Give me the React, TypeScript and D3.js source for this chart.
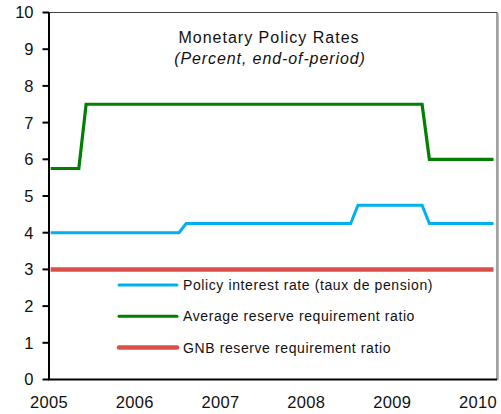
import React, { useEffect, useRef } from 'react';
import * as d3 from 'd3';

// Monthly observations, Jan 2005 - Mar 2010 (end-of-period, percent)
const startYear = 2005;
const policyRate = [
  4, 4, 4, 4, 4, 4, 4, 4, 4, 4, 4, 4,
  4, 4, 4, 4, 4, 4, 4, 4.25, 4.25, 4.25, 4.25, 4.25,
  4.25, 4.25, 4.25, 4.25, 4.25, 4.25, 4.25, 4.25, 4.25, 4.25, 4.25, 4.25,
  4.25, 4.25, 4.25, 4.25, 4.25, 4.25, 4.25, 4.75, 4.75, 4.75, 4.75, 4.75,
  4.75, 4.75, 4.75, 4.75, 4.75, 4.25, 4.25, 4.25, 4.25, 4.25, 4.25, 4.25,
  4.25, 4.25, 4.25
];
const avgReserveRatio = [
  5.75, 5.75, 5.75, 5.75, 5.75, 7.5, 7.5, 7.5, 7.5, 7.5, 7.5, 7.5,
  7.5, 7.5, 7.5, 7.5, 7.5, 7.5, 7.5, 7.5, 7.5, 7.5, 7.5, 7.5,
  7.5, 7.5, 7.5, 7.5, 7.5, 7.5, 7.5, 7.5, 7.5, 7.5, 7.5, 7.5,
  7.5, 7.5, 7.5, 7.5, 7.5, 7.5, 7.5, 7.5, 7.5, 7.5, 7.5, 7.5,
  7.5, 7.5, 7.5, 7.5, 7.5, 6, 6, 6, 6, 6, 6, 6,
  6, 6, 6
];
const gnbReserveRatio = [
  3, 3, 3, 3, 3, 3, 3, 3, 3, 3, 3, 3,
  3, 3, 3, 3, 3, 3, 3, 3, 3, 3, 3, 3,
  3, 3, 3, 3, 3, 3, 3, 3, 3, 3, 3, 3,
  3, 3, 3, 3, 3, 3, 3, 3, 3, 3, 3, 3,
  3, 3, 3, 3, 3, 3, 3, 3, 3, 3, 3, 3,
  3, 3, 3
];
const yearLabels = ['2005', '2006', '2007', '2008', '2009', '2010'];
const yTicks = [0, 1, 2, 3, 4, 5, 6, 7, 8, 9, 10];
const seriesNames = [
  'Policy interest rate (taux de pension)',
  'Average reserve requirement ratio',
  'GNB reserve requirement ratio'
];

const font = 'Arial, "Liberation Sans", sans-serif';

const App = () => {
  const ref = useRef(null);

  useEffect(() => {
    const width = 501;
    const height = 414;
    const left = 49;
    const right = 497;
    const top = 12.5;
    const bottom = 379.5;

    const container = d3.select(ref.current);
    container.selectAll('*').remove();

    const svg = container
      .append('svg')
      .attr('width', width)
      .attr('height', height)
      .style('position', 'absolute')
      .style('left', 0)
      .style('top', 0)
      .style('background', '#fff');

    // points sit about a week into each month
    const date = (i: number) => new Date(startYear, i, 8);

    const x = d3.scaleTime()
      .domain([new Date(2005, 0, 1), new Date(2010, 0, 1)])
      .range([left, 478]);
    const y = d3.scaleLinear().domain([0, 10]).range([bottom, top]);

    // plot frame
    svg.append('rect')
      .attr('x', left)
      .attr('y', top)
      .attr('width', right - left)
      .attr('height', bottom - top)
      .attr('fill', 'none')
      .attr('stroke', '#444')
      .attr('stroke-width', 1);
    svg.append('line')
      .attr('x1', right + 1.5).attr('x2', right + 1.5)
      .attr('y1', top + 1).attr('y2', bottom + 1)
      .attr('stroke', '#bbb').attr('stroke-width', 1);

    // titles
    svg.append('text')
      .attr('x', 269).attr('y', 43)
      .attr('text-anchor', 'middle')
      .style('font-family', font)
      .style('font-size', '16px')
      .style('letter-spacing', '1px')
      .attr('fill', '#111')
      .text('Monetary Policy Rates');
    svg.append('text')
      .attr('x', 270).attr('y', 64)
      .attr('text-anchor', 'middle')
      .style('font-family', font)
      .style('font-size', '16px')
      .style('letter-spacing', '0.9px')
      .style('font-style', 'italic')
      .attr('fill', '#111')
      .text('(Percent, end-of-period)');

    // lines
    const line = d3.line<number>()
      .x((d, i) => x(date(i)))
      .y(d => y(d));

    const series = [
      { values: gnbReserveRatio, color: '#D9504A', w: 4.5 },
      { values: policyRate, color: '#00B0F0', w: 3 },
      { values: avgReserveRatio, color: '#008000', w: 3.2 }
    ];
    series.forEach(s => {
      svg.append('path')
        .datum(s.values)
        .attr('d', line)
        .attr('fill', 'none')
        .attr('stroke', s.color)
        .attr('stroke-width', s.w)
        .attr('stroke-linejoin', 'miter');
    });

    // axes
    svg.append('line')
      .attr('x1', left).attr('x2', left)
      .attr('y1', top).attr('y2', bottom)
      .attr('stroke', '#000').attr('stroke-width', 2);
    svg.append('line')
      .attr('x1', left - 1).attr('x2', right)
      .attr('y1', bottom).attr('y2', bottom)
      .attr('stroke', '#000').attr('stroke-width', 2);

    svg.selectAll('.ytick')
      .data(yTicks)
      .enter()
      .append('line')
      .attr('x1', left - 6.5).attr('x2', left)
      .attr('y1', d => y(d)).attr('y2', d => y(d))
      .attr('stroke', '#000').attr('stroke-width', 2);

    svg.selectAll('.ylabel')
      .data(yTicks)
      .enter()
      .append('text')
      .attr('x', 33.5)
      .attr('y', d => y(d))
      .attr('dy', '0.36em')
      .attr('text-anchor', 'end')
      .style('font-family', font)
      .style('font-size', '16.5px')
      .attr('fill', '#111')
      .text(d => d);

    svg.selectAll('.xlabel')
      .data(yearLabels)
      .enter()
      .append('text')
      .attr('x', d => x(new Date(+d, 0, 1)))
      .attr('y', 408)
      .attr('text-anchor', 'middle')
      .style('font-family', font)
      .style('font-size', '16.5px')
      .style('letter-spacing', '0.3px')
      .attr('fill', '#111')
      .text(d => d);

    // legend
    const legendColors = ['#00B0F0', '#008000', '#D9504A'];
    const legendWidths = [3, 3, 4.5];
    const legend = svg.selectAll('.legend')
      .data(seriesNames)
      .enter()
      .append('g')
      .attr('transform', (d, i) => `translate(119, ${285 + i * 31.3})`);
    legend.append('line')
      .attr('x1', 0).attr('x2', 58)
      .attr('stroke', (d, i) => legendColors[i])
      .attr('stroke-width', (d, i) => legendWidths[i])
      .attr('stroke-linecap', 'round');
    legend.append('text')
      .attr('x', 64)
      .attr('dy', '0.35em')
      .style('font-family', font)
      .style('font-size', '14px')
      .style('letter-spacing', '0.6px')
      .attr('fill', '#111')
      .text(d => d);

    return () => {
      container.selectAll('*').remove();
    };
  }, []);

  return <div ref={ref}></div>;
};

export default App;
